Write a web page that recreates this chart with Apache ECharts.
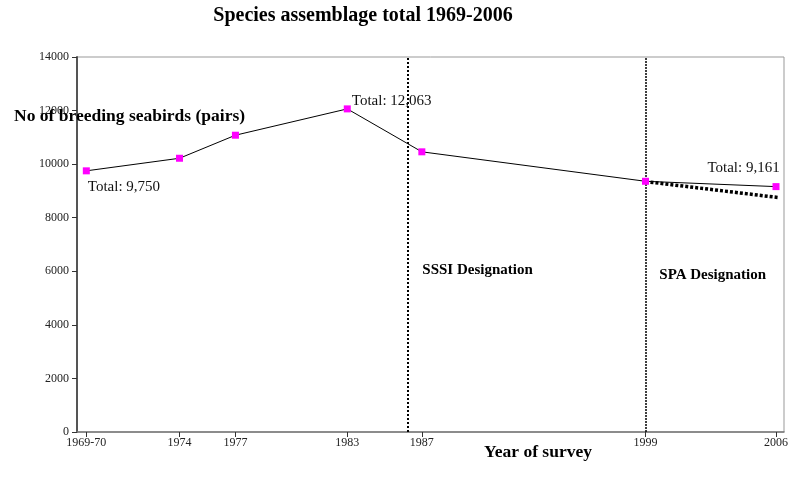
<!DOCTYPE html>
<html>
<head>
<meta charset="utf-8">
<script src="https://cdn.jsdelivr.net/npm/echarts@6/dist/echarts.min.js"></script>
<style>html,body{margin:0;padding:0;background:#fff;}#c{width:791px;height:479px;}</style>
</head>
<body>
<div id="c"></div>
<script>
const years = [1969, 1974, 1977, 1983, 1987, 1999, 2006];
const yearLabels = ['1969-70', '1974', '1977', '1983', '1987', '1999', '2006'];
const totals = [9750, 10220, 11080, 12063, 10460, 9360, 9161];
const trendYears = [1999, 2006.16];
const trendValues = [9350, 8750];
const designations = [{ year: 1986.24, name: 'SSSI Designation' }, { year: 1999, name: 'SPA Designation' }];

const serif = '"Liberation Serif", "Times New Roman", serif';
const chart = echarts.init(document.getElementById('c'), null, { renderer: 'canvas' });

const labelOf = {};
years.forEach((y, i) => labelOf[y] = yearLabels[i]);

const pointLabels = {
  0: { show: true, formatter: 'Total: 9,750', position: [5, 19.5], align: 'left', verticalAlign: 'middle' },
  3: { show: true, formatter: 'Total: 12,063', position: [8, -4.5], align: 'left', verticalAlign: 'middle' },
  6: { show: true, formatter: 'Total: 9,161', position: [7.2, -15.2], align: 'right', verticalAlign: 'middle' }
};

const mainData = years.map((y, i) => {
  const d = { value: [y, totals[i]] };
  if (pointLabels[i]) d.label = pointLabels[i];
  return d;
});

chart.setOption({
  animation: false,
  backgroundColor: '#fff',
  grid: { left: 77, right: 4, top: 57, bottom: 47, show: true, borderColor: '#999', borderWidth: 1 },
  xAxis: {
    type: 'value', min: 1968.5, max: 2006.43,
    splitLine: { show: false },
    axisLine: { lineStyle: { color: '#777', width: 1.5 } },
    axisTick: { show: true, customValues: years, length: 5, inside: false, lineStyle: { color: '#333' } },
    axisLabel: {
      customValues: years, margin: 5,
      formatter: v => labelOf[v] || '',
      fontFamily: serif, fontSize: 12, color: '#222'
    }
  },
  yAxis: {
    type: 'value', min: 0, max: 14000, interval: 2000,
    splitLine: { show: false },
    axisLine: { show: true, lineStyle: { color: '#555', width: 2 } },
    axisTick: { show: true, length: 5, lineStyle: { color: '#333' } },
    axisLabel: { margin: 8, formatter: v => String(v), fontFamily: serif, fontSize: 12, color: '#222' }
  },
  series: [
    {
      type: 'line',
      data: mainData,
      symbol: 'rect', symbolSize: 7,
      itemStyle: { color: '#ff00ff' },
      lineStyle: { color: '#000', width: 1 },
      label: { show: false, fontFamily: serif, fontSize: 15, color: '#111' },
      z: 5,
      markLine: {
        silent: true, symbol: 'none',
        label: { show: false },
        data: designations.map((d, i) => ({
          xAxis: d.year,
          lineStyle: { color: '#000', type: i === 0 ? 'dotted' : [2, 1], width: i === 0 ? 2 : 1.5 }
        }))
      }
    },
    {
      type: 'line',
      data: trendYears.map((y, i) => [y, trendValues[i]]),
      symbol: 'none',
      lineStyle: { color: '#000', width: 3.5, type: [3, 2] },
      z: 4
    }
  ],
  graphic: [
    { type: 'text', x: 363, y: 15.5, style: { text: 'Species assemblage total 1969-2006', font: 'bold 20px ' + serif, fill: '#000', textAlign: 'center', textVerticalAlign: 'middle' } },
    { type: 'text', x: 14, y: 116.5, z: 100, style: { text: 'No of breeding seabirds (pairs)', font: 'bold 17.5px ' + serif, fill: '#000', textAlign: 'left', textVerticalAlign: 'middle' } },
    { type: 'text', x: 538, y: 452, style: { text: 'Year of survey', font: 'bold 17.5px ' + serif, fill: '#000', textAlign: 'center', textVerticalAlign: 'middle' } },
    { type: 'text', x: 422.3, y: 270, style: { text: designations[0].name, font: 'bold 15px ' + serif, fill: '#000', textAlign: 'left', textVerticalAlign: 'middle' } },
    { type: 'text', x: 659.3, y: 275, style: { text: designations[1].name, font: 'bold 15px ' + serif, fill: '#000', textAlign: 'left', textVerticalAlign: 'middle' } }
  ]
});
</script>
</body>
</html>
